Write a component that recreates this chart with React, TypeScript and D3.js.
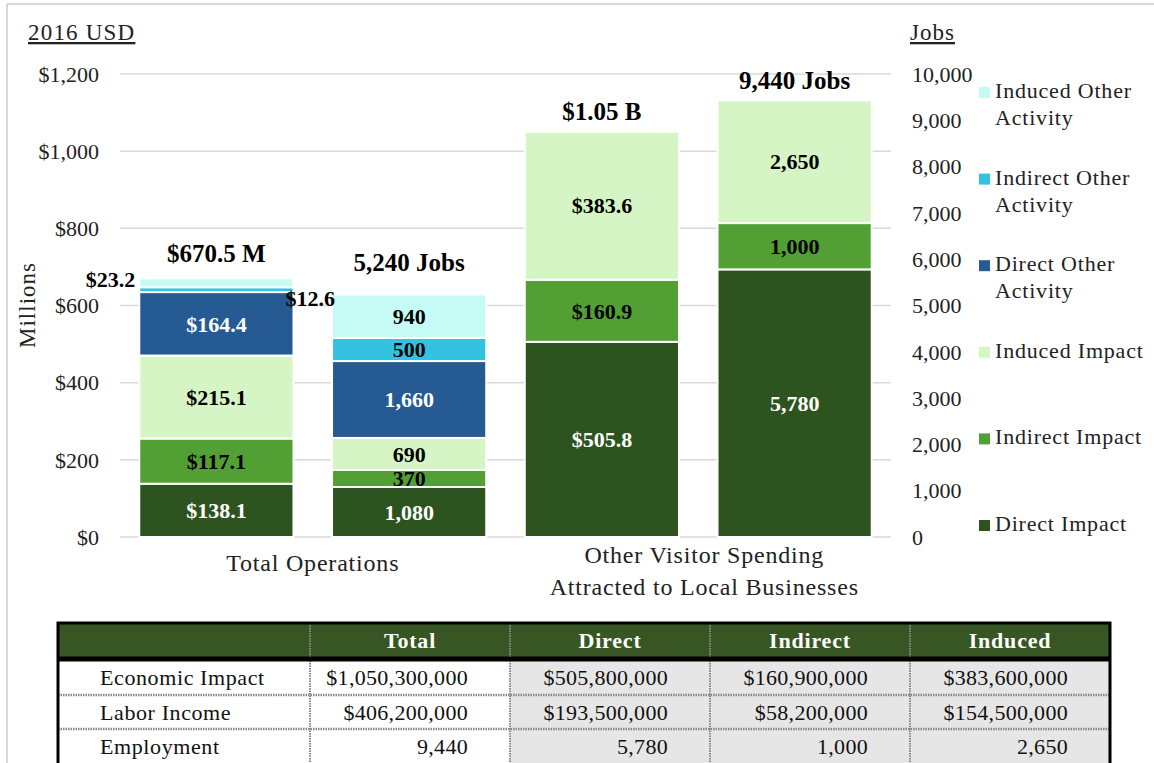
import React from 'react';
import * as d3 from 'd3';

// chart data
const seriesNames = [
  'Direct Impact',
  'Indirect Impact',
  'Induced Impact',
  'Direct Other Activity',
  'Indirect Other Activity',
  'Induced Other Activity',
];
const seriesColors = ['#2d541e', '#52a033', '#d5f5c4', '#255a92', '#33c3e0', '#c5fbf4'];
const whiteText = [true, false, false, true, false, false];

const categories = ['Total Operations', 'Other Visitor Spending|Attracted to Local Businesses'];
const opsDollars = [138.1, 117.1, 215.1, 164.4, 12.6, 23.2];
const opsJobs = [1080, 370, 690, 1660, 500, 940];
const visitorDollars = [505.8, 160.9, 383.6, 0, 0, 0];
const visitorJobs = [5780, 1000, 2650, 0, 0, 0];
const totalLabels = ['$670.5 M', '5,240 Jobs', '$1.05 B', '9,440 Jobs'];

const dollarTicks = [0, 200, 400, 600, 800, 1000, 1200];
const jobTicks = [0, 1000, 2000, 3000, 4000, 5000, 6000, 7000, 8000, 9000, 10000];

// table data
const tableHeader = ['', 'Total', 'Direct', 'Indirect', 'Induced'];
const rowLabels = ['Economic Impact', 'Labor Income', 'Employment'];
const economicImpact = ['$1,050,300,000', '$505,800,000', '$160,900,000', '$383,600,000'];
const laborIncome = ['$406,200,000', '$193,500,000', '$58,200,000', '$154,500,000'];
const employment = ['9,440', '5,780', '1,000', '2,650'];

const FONT = '"Liberation Serif", "Times New Roman", serif';

export default function App() {
  const width = 1154, height = 763;
  const plot = { left: 120, right: 891, top: 74, bottom: 537 };

  const bars = [
    { key: 'ops-usd', values: opsDollars, axis: 'usd' },
    { key: 'ops-jobs', values: opsJobs, axis: 'jobs' },
    { key: 'vis-usd', values: visitorDollars, axis: 'usd' },
    { key: 'vis-jobs', values: visitorJobs, axis: 'jobs' },
  ];

  const x = d3.scaleBand()
    .domain(bars.map(b => b.key))
    .range([plot.left, plot.right])
    .paddingInner(0.2)
    .paddingOuter(0.1);

  const yUsd = d3.scaleLinear().domain([0, 1200]).range([plot.bottom, plot.top]);
  const yJobs = d3.scaleLinear().domain([0, 10000]).range([plot.bottom, plot.top]);

  const rows = bars.map(b => {
    const r: any = { key: b.key };
    seriesNames.forEach((s, i) => { r[s] = b.values[i]; });
    return r;
  });
  const stacked = d3.stack().keys(seriesNames)(rows);

  const fmtUsd = (v: number) => '$' + d3.format('.1f')(v);
  const fmtJobs = d3.format(',');
  const totalGap = [25, 32, 21, 20];

  const legendY = d3.scaleLinear().domain([0, 5]).range([92, 525]);
  const legendOrder = [5, 4, 3, 2, 1, 0];

  // table layout
  const tX = [58, 310, 510, 710, 910, 1110];
  const tY = [623, 659, 695, 729, 763];
  const tableRows = [economicImpact, laborIncome, employment];

  return (
    <svg width={width} height={height} style={{ position: 'absolute', left: 0, top: 0, fontFamily: FONT }}>
      <rect x={0} y={0} width={width} height={height} fill="#fff" />
      <line x1={7} x2={width} y1={4} y2={4} stroke="#d9d9d9" strokeWidth={2} />
      <line x1={7} x2={7} y1={4} y2={height} stroke="#d9d9d9" strokeWidth={2} />

      {/* gridlines */}
      {dollarTicks.map(t => (
        <line key={t} x1={plot.left} x2={plot.right} y1={yUsd(t)} y2={yUsd(t)} stroke="#d9d9d9" strokeWidth={1.5} />
      ))}

      {/* axis labels */}
      {dollarTicks.map(t => (
        <text key={t} x={99} y={yUsd(t)} dy="0.35em" textAnchor="end" fontSize={22} fill="#222">
          {'$' + d3.format(',')(t)}
        </text>
      ))}
      {jobTicks.map(t => (
        <text key={t} x={912} y={yJobs(t)} dy="0.35em" fontSize={22} fill="#222">
          {fmtJobs(t)}
        </text>
      ))}
      <text x={28} y={40} fontSize={23} letterSpacing={1.2} textDecoration="underline" fill="#222">2016 USD</text>
      <text x={910} y={40} fontSize={23} letterSpacing={1} textDecoration="underline" fill="#222">Jobs</text>
      <text transform="translate(35,305) rotate(-90)" textAnchor="middle" fontSize={23} letterSpacing={1} fill="#222">Millions</text>

      {/* bars */}
      {stacked.map((layer, si) => (
        <g key={layer.key}>
          {layer.map((d, bi) => {
            const y = bars[bi].axis === 'usd' ? yUsd : yJobs;
            if (d[1] - d[0] <= 0) return null;
            return (
              <rect key={bi} x={x(bars[bi].key)!} width={x.bandwidth()}
                y={y(d[1])} height={y(d[0]) - y(d[1])}
                fill={seriesColors[si]} stroke="#fff" strokeWidth={2} />
            );
          })}
        </g>
      ))}

      {/* segment labels */}
      {stacked.map((layer, si) => layer.map((d, bi) => {
        const b = bars[bi];
        const v = b.values[si];
        if (!v) return null;
        const y = b.axis === 'usd' ? yUsd : yJobs;
        const cy = (y(d[0]) + y(d[1])) / 2;
        const bx = x(b.key)!;
        const label = b.axis === 'usd' ? fmtUsd(v) : fmtJobs(v);
        let tx = bx + x.bandwidth() / 2, anchor = 'middle', ty = cy, fill = whiteText[si] ? '#fff' : '#000';
        if (b.axis === 'usd' && y(d[0]) - y(d[1]) < 12) {
          fill = '#000';
          if (si === 5) { tx = bx - 4; anchor = 'end'; ty = cy - 3; }
          else { tx = bx + x.bandwidth() - 8; anchor = 'start'; ty = cy + 9; }
        }
        return (
          <text key={si + '-' + bi} x={tx} y={ty} dy="0.35em" textAnchor={anchor}
            fontSize={22} fontWeight="bold" fill={fill}>{label}</text>
        );
      }))}

      {/* totals */}
      {bars.map((b, bi) => {
        const y = b.axis === 'usd' ? yUsd : yJobs;
        const top = y(d3.sum(b.values));
        return (
          <text key={b.key} x={x(b.key)! + x.bandwidth() / 2} y={top - totalGap[bi]} dy="0.35em"
            textAnchor="middle" fontSize={25} fontWeight="bold" fill="#000">{totalLabels[bi]}</text>
        );
      })}

      {/* category labels */}
      {categories.map((c, ci) => {
        const x0 = x(bars[ci * 2].key)!;
        const x1 = x(bars[ci * 2 + 1].key)! + x.bandwidth();
        const lines = c.split('|');
        const y0 = lines.length === 1 ? 571 : 563;
        return (
          <text key={c} textAnchor="middle" fontSize={24} letterSpacing={0.8} fill="#222">
            {lines.map((l, li) => (
              <tspan key={li} x={(x0 + x1) / 2 + ci * 6} y={y0 + li * 32}>{l}</tspan>
            ))}
          </text>
        );
      })}

      {/* legend */}
      {legendOrder.map((si, i) => {
        const cy = legendY(i);
        const name = seriesNames[si];
        const words = name.split(' ');
        const lines = words.length > 2 ? [words.slice(0, 2).join(' '), words.slice(2).join(' ')] : [name];
        return (
          <g key={name}>
            <rect x={979} y={cy - 5} width={11} height={11} fill={seriesColors[si]} />
            <text fontSize={22} letterSpacing={0.8} fill="#222">
              {lines.map((l, li) => (
                <tspan key={li} x={995} y={cy + 6 + li * 27}>{l}</tspan>
              ))}
            </text>
          </g>
        );
      })}

      {/* table */}
      <g>
        {tableRows.map((r, ri) => (
          <g key={ri}>
            {[0, 1, 2, 3, 4].map(ci => (
              <rect key={ci} x={tX[ci]} y={tY[ri + 1]} width={tX[ci + 1] - tX[ci]} height={tY[ri + 2] - tY[ri + 1]}
                fill={ci >= 2 ? '#e7e6e6' : '#fff'} />
            ))}
          </g>
        ))}
        <rect x={tX[0]} y={tY[0]} width={tX[5] - tX[0]} height={tY[1] - tY[0]} fill="#375623" />
        {/* dotted inner borders */}
        {[1, 2, 3, 4].map(ci => (
          <line key={ci} x1={tX[ci]} x2={tX[ci]} y1={tY[0]} y2={tY[4]} stroke="#888" strokeWidth={2} strokeDasharray="1.5,1" />
        ))}
        {[2, 3].map(ri => (
          <line key={ri} x1={tX[0]} x2={tX[5]} y1={tY[ri]} y2={tY[ri]} stroke="#888" strokeWidth={2.5} strokeDasharray="1.5,1" />
        ))}
        <line x1={tX[0]} x2={tX[5]} y1={tY[1]} y2={tY[1]} stroke="#000" strokeWidth={5} />
        <rect x={tX[0]} y={tY[0]} width={tX[5] - tX[0]} height={tY[4] - tY[0] + 4} fill="none" stroke="#000" strokeWidth={3} />

        {tableHeader.map((h, ci) => h && (
          <text key={ci} x={(tX[ci] + tX[ci + 1]) / 2} y={(tY[0] + tY[1]) / 2 - 1} dy="0.35em" textAnchor="middle"
            fontSize={22} fontWeight="bold" letterSpacing={0.8} fill="#fff">{h}</text>
        ))}
        {rowLabels.map((l, ri) => (
          <text key={l} x={100} y={(tY[ri + 1] + tY[ri + 2]) / 2} dy="0.35em" fontSize={22} letterSpacing={0.6} fill="#111">{l}</text>
        ))}
        {tableRows.map((r, ri) => r.map((v, ci) => (
          <text key={ri + '-' + ci} x={tX[ci + 2] - 42} y={(tY[ri + 1] + tY[ri + 2]) / 2} dy="0.35em" textAnchor="end"
            fontSize={22} letterSpacing={0.3} fill="#111">{v}</text>
        )))}
      </g>
    </svg>
  );
}
